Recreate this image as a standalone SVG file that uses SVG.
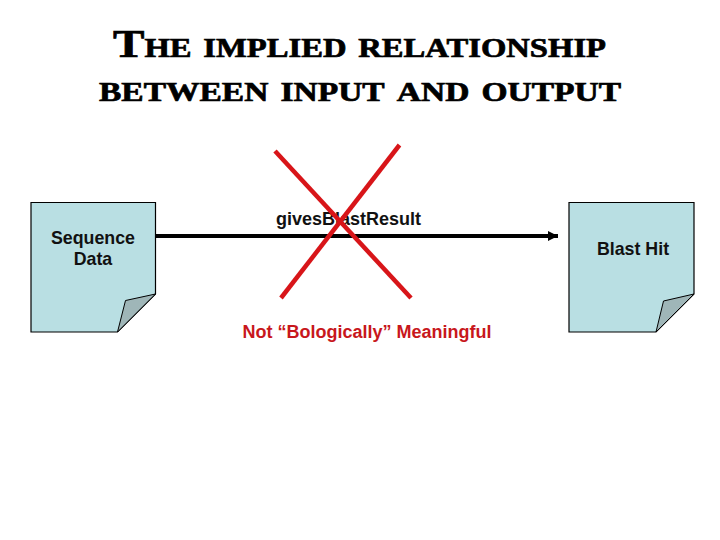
<svg xmlns="http://www.w3.org/2000/svg" width="720" height="540" viewBox="0 0 720 540">
<style>
.t{font-family:"Liberation Serif",serif;font-weight:bold;font-size:39px;font-variant:small-caps;fill:#000;stroke:#000;stroke-width:.7px}
.l{font-family:"Liberation Sans",Arial,sans-serif;font-weight:bold;font-size:17.800px;text-anchor:middle;fill:#111}
.p{fill:#b9dfe3;stroke:#000;stroke-width:1.2}
.f{fill:#9fb6b8;stroke:#000;stroke-width:1}
.x{stroke:#d81519;stroke-width:4.500;fill:none}
</style>
<defs><marker id="a" markerUnits="userSpaceOnUse" markerWidth="12" markerHeight="12" refX="10" refY="6" orient="auto"><path d="M0 1L10 6L0 11Z" fill="#000"/></marker></defs>
<g id="title">
<text class="t" x="113" y="57" textLength="493" lengthAdjust="spacingAndGlyphs">The implied relationship</text>
<text class="t" x="99" y="101" textLength="522" lengthAdjust="spacingAndGlyphs">between input and output</text>
</g>
<g id="sequence-data">
<path class="p" d="M31 202.500H155.500V294L117.500 332H31Z"/>
<path class="f" d="M155.500 294L125.500 300.500L117.500 332Z"/>
<text class="l" x="93" y="243.500">Sequence</text>
<text class="l" x="93" y="264.500">Data</text>
</g>
<g id="blast-hit">
<path class="p" d="M569 202.500H694V294L656 332H569Z"/>
<path class="f" d="M694 294L663.500 301L656 332Z"/>
<text class="l" x="633" y="254.500">Blast Hit</text>
</g>
<g id="connectors">
<text class="l" x="348.500" y="225" style="font-size:18px">givesBlastResult</text>
<line x1="156" y1="236" x2="558" y2="236" stroke="#000" stroke-width="4" marker-end="url(#a)"/>
</g>
<g id="cross">
<line class="x" x1="275" y1="151" x2="411" y2="298"/>
<line class="x" x1="399.500" y1="145" x2="281" y2="298"/>
<text class="l" x="367" y="337.500" style="fill:#c8171c;font-size:18px">Not “Bologically” Meaningful</text>
</g>
</svg>
